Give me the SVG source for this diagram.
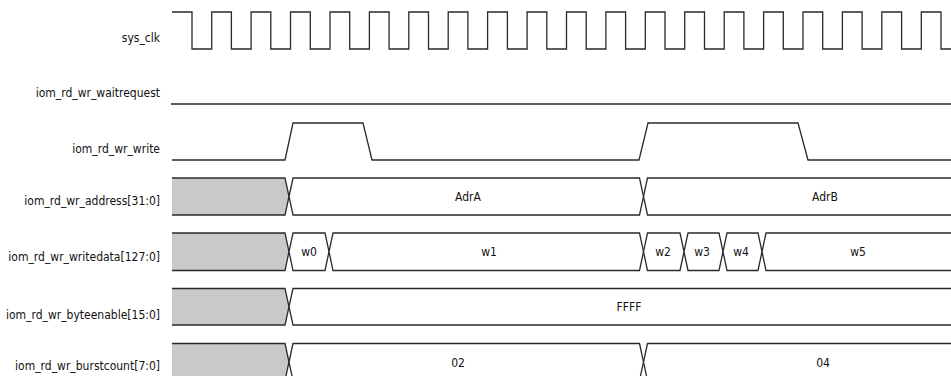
<svg xmlns="http://www.w3.org/2000/svg" width="951" height="376" viewBox="0 0 951 376">
<style>
.lbl{font-family:"DejaVu Sans Condensed","DejaVu Sans",sans-serif;font-size:12px;fill:#111;text-anchor:end}
.val{font-family:"DejaVu Sans Condensed","DejaVu Sans",sans-serif;font-size:12px;fill:#111;text-anchor:middle}
.wave{fill:none;stroke:#2a2a2a;stroke-width:1.3}
.bus{fill:#fff;stroke:#2a2a2a;stroke-width:1.3}
.idle{fill:#c9c9c9;stroke:#2a2a2a;stroke-width:1.3}
</style>
<rect width="951" height="376" fill="#fff"/>
<g id="sys_clk">
<text class="lbl" x="160" y="42">sys_clk</text>
<path class="wave" d="M172,12 H192 V49 H211.7 V12 H231.4 V49 H251.1 V12 H270.8 V49 H290.5 V12 H310.3 V49 H330 V12 H349.7 V49 H369.4 V12 H389.1 V49 H408.8 V12 H428.5 V49 H448.2 V12 H467.9 V49 H487.6 V12 H507.4 V49 H527.1 V12 H546.8 V49 H566.5 V12 H586.2 V49 H605.9 V12 H625.6 V49 H645.3 V12 H665 V49 H684.7 V12 H704.5 V49 H724.2 V12 H743.9 V49 H763.6 V12 H783.3 V49 H803 V12 H822.7 V49 H842.4 V12 H862.1 V49 H881.8 V12 H901.6 V49 H921.3 V12 H941 V49 H952"/>
</g>
<g id="waitrequest">
<text class="lbl" x="160" y="97">iom_rd_wr_waitrequest</text>
<path class="wave" d="M171,104 H952"/>
</g>
<g id="write">
<text class="lbl" x="160" y="153">iom_rd_wr_write</text>
<path class="wave" d="M172,160 H285 L293,123 H363 L372,160 H639 L648,123 H798 L808,160 H952"/>
</g>
<g id="address">
<text class="lbl" x="160" y="205">iom_rd_wr_address[31:0]</text>
<path class="idle" d="M172,178 H285 L289,196.5 L285,215 H172"/>
<polygon class="bus" points="289,196.5 293,178 639.5,178 643.5,196.5 639.5,215 293,215"/>
<polygon class="bus" points="643.5,196.5 647.5,178 960,178 960,215 647.5,215"/>
<text class="val" x="468" y="201">AdrA</text>
<text class="val" x="825" y="201">AdrB</text>
</g>
<g id="writedata">
<text class="lbl" x="160" y="261">iom_rd_wr_writedata[127:0]</text>
<path class="idle" d="M172,233 H285 L289,251.7 L285,270.5 H172"/>
<polygon class="bus" points="289,251.7 293,233 325,233 329,251.7 325,270.5 293,270.5"/>
<polygon class="bus" points="329,251.7 333,233 639.5,233 643.5,251.7 639.5,270.5 333,270.5"/>
<polygon class="bus" points="643.5,251.7 647.5,233 680,233 684,251.7 680,270.5 647.5,270.5"/>
<polygon class="bus" points="684,251.7 688,233 719,233 723,251.7 719,270.5 688,270.5"/>
<polygon class="bus" points="723,251.7 727,233 758,233 762,251.7 758,270.5 727,270.5"/>
<polygon class="bus" points="762,251.7 766,233 960,233 960,270.5 766,270.5"/>
<text class="val" x="309" y="256">w0</text>
<text class="val" x="489" y="256">w1</text>
<text class="val" x="663" y="256">w2</text>
<text class="val" x="702" y="256">w3</text>
<text class="val" x="741" y="256">w4</text>
<text class="val" x="858" y="256">w5</text>
</g>
<g id="byteenable">
<text class="lbl" x="160" y="319">iom_rd_wr_byteenable[15:0]</text>
<path class="idle" d="M172,288.5 H285 L289,306.7 L285,325 H172"/>
<polygon class="bus" points="289,306.7 293,288.5 960,288.5 960,325 293,325"/>
<text class="val" x="629" y="311">FFFF</text>
</g>
<g id="burstcount">
<text class="lbl" x="160" y="370">iom_rd_wr_burstcount[7:0]</text>
<path class="idle" d="M172,343.5 H285 L289,362 L285,380.5 H172"/>
<polygon class="bus" points="289,362 293,343.5 639.5,343.5 643.5,362 639.5,380.5 293,380.5"/>
<polygon class="bus" points="643.5,362 647.5,343.5 960,343.5 960,380.5 647.5,380.5"/>
<text class="val" x="458" y="367">02</text>
<text class="val" x="823" y="367">04</text>
</g>
<g id="connectors"></g>
</svg>
